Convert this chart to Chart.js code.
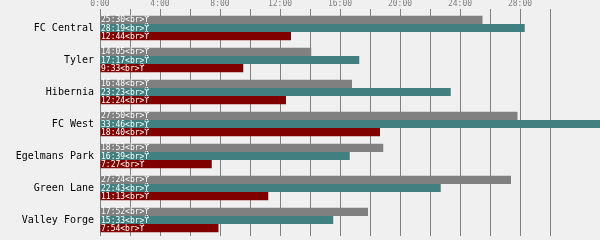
<!DOCTYPE html>
<html>
<head>
<meta charset="utf-8">
<script src="https://cdn.jsdelivr.net/npm/chart.js@4/dist/chart.umd.min.js"></script>
<style>
html,body{margin:0;padding:0;background:#f0f0f0;}
canvas{display:block;}
</style>
</head>
<body>
<canvas id="c" width="600" height="240"></canvas>
<script>
const categories = ["FC Central","Tyler","Hibernia","FC West","Egelmans Park","Green Lane","Valley Forge"];
// values in seconds
const seriesGray = [1530, 845, 1008, 1670, 1133, 1644, 1072];
const seriesTeal = [1699, 1037, 1403, 2026, 999, 1363, 933];
const seriesRed  = [764, 573, 744, 1120, 447, 673, 474];
const xMin = 0, xMax = 2000, xStep = 120, labelStep = 240;
const labelSuffix = "<br>ϔ";

function fmt(v){
  const m = Math.floor(v/60), s = Math.round(v%60);
  return m + ":" + (s<10?"0":"") + s;
}

const barLabels = {
  id:'barLabels',
  afterDatasetsDraw(chart){
    const ctx = chart.ctx;
    ctx.save();
    ctx.font = "8px 'DejaVu Sans Mono'";
    ctx.fillStyle = "#ffffff";
    ctx.textBaseline = "middle";
    ctx.textAlign = "left";
    chart.data.datasets.forEach((ds,i)=>{
      const meta = chart.getDatasetMeta(i);
      meta.data.forEach((el,j)=>{
        ctx.fillText(fmt(ds.data[j]) + labelSuffix, chart.chartArea.left + 1, el.y + 0.5);
      });
    });
    ctx.restore();
  }
};

const bg = {
  id:'bg',
  beforeDraw(chart){
    const ctx = chart.ctx;
    ctx.save();
    ctx.fillStyle = "#f0f0f0";
    ctx.fillRect(0,0,chart.width,chart.height);
    ctx.restore();
  }
};

new Chart(document.getElementById('c'), {
  type:'bar',
  data:{
    labels: categories,
    datasets:[
      {data: seriesGray, backgroundColor:'#808080'},
      {data: seriesTeal, backgroundColor:'#408080'},
      {data: seriesRed, backgroundColor:'#800000'}
    ]
  },
  options:{
    indexAxis:'y',
    responsive:false,
    animation:false,
    devicePixelRatio:1,
    layout:{padding:{top:0,right:0,bottom:4,left:0}},
    datasets:{bar:{barPercentage:1, categoryPercentage:0.76, borderWidth:0}},
    plugins:{legend:{display:false}, tooltip:{enabled:false}},
    scales:{
      x:{
        position:'top',
        min:xMin, max:xMax,
        afterBuildTicks(axis){
          axis.ticks = axis.ticks.filter(t => t.value % xStep === 0);
        },
        afterFit(axis){ axis.height = 12; axis.paddingLeft = 0; axis.paddingRight = 0; },
        border:{display:false},
        grid:{color:'#808080', lineWidth:1, tickLength:3, drawTicks:true},
        ticks:{
          stepSize:xStep,
          autoSkip:false,
          maxRotation:0,
          padding:0,
          color:'#808080',
          font:{family:"'DejaVu Sans Mono'", size:8},
          callback:(v)=> (v % labelStep === 0) ? fmt(v) : ''
        }
      },
      y:{
        afterFit(axis){ axis.width = 100; axis.paddingTop = 0; axis.paddingBottom = 0; },
        border:{display:false},
        grid:{display:false, tickLength:0},
        ticks:{
          color:'#000000',
          padding:6,
          font:{family:"'DejaVu Sans Mono'", size:10}
        }
      }
    }
  },
  plugins:[bg, barLabels]
});
</script>
</body>
</html>
